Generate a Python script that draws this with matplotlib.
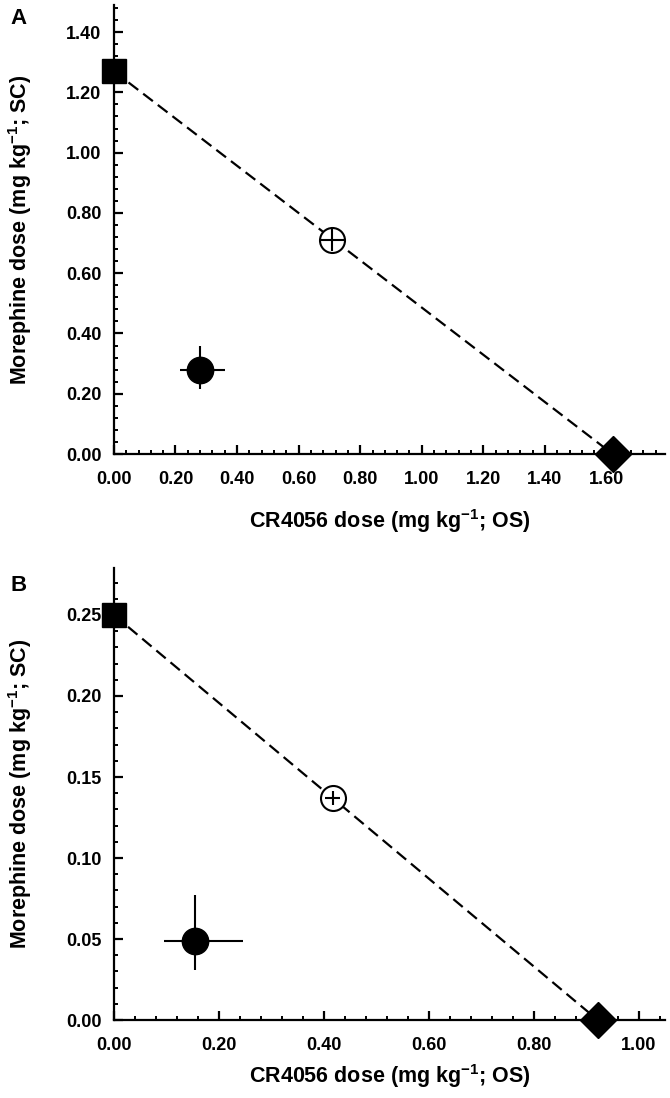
import numpy as np
import matplotlib
matplotlib.use("Agg")
import matplotlib.pyplot as plt
from matplotlib.ticker import MultipleLocator, FormatStrFormatter

plt.rcParams["font.family"] = ["Liberation Sans", "DejaVu Sans"]
plt.rcParams["font.weight"] = "bold"
plt.rcParams["mathtext.fontset"] = "custom"
plt.rcParams["mathtext.rm"] = "Liberation Sans:bold"
plt.rcParams["mathtext.bf"] = "Liberation Sans:bold"
plt.rcParams["mathtext.default"] = "bf"

# Panel A: isobologram (morphine SC vs CR4056 OS)
a_morphine_alone = 1.27
a_cr4056_alone = 1.62
a_additive = (0.71, 0.71)
a_additive_err = (0.038, 0.038)
a_observed = (0.28, 0.28)
a_obs_xerr = ([0.065], [0.08])
a_obs_yerr = ([0.065], [0.077])

# Panel B
b_morphine_alone = 0.25
b_cr4056_alone = 0.922
b_additive = (0.417, 0.137)
b_additive_err = (0.014, 0.0045)
b_observed = (0.154, 0.049)
b_obs_xerr = ([0.059], [0.092])
b_obs_yerr = ([0.018], [0.028])

XLABEL = r"CR4056 dose (mg kg$^{-1}$; OS)"
YLABEL = r"Morephine dose (mg kg$^{-1}$; SC)"


def draw_panel(ax, m_alone, c_alone, add, add_err, obs, obs_xerr, obs_yerr,
               xlim, ylim, xmaj, xmin, ymaj, ymin):
    ax.plot([0, c_alone], [m_alone, 0], color="black", lw=1.6,
            ls=(0, (5.5, 2.8)), zorder=2, clip_on=False)
    ax.plot([0], [m_alone], marker="s", ms=17, color="black",
            ls="none", clip_on=False, zorder=5)
    ax.plot([c_alone], [0], marker="D", ms=18, color="black",
            ls="none", clip_on=False, zorder=5)
    # additive point: open circle with a small cross on top
    ax.plot([add[0]], [add[1]], marker="o", ms=18, mfc="white", mec="black",
            mew=1.5, ls="none", zorder=4)
    ax.errorbar([add[0]], [add[1]], xerr=add_err[0], yerr=add_err[1],
                fmt="none", ecolor="black", elinewidth=1.5, capsize=0, zorder=5)
    ax.errorbar([obs[0]], [obs[1]], xerr=obs_xerr, yerr=obs_yerr,
                fmt="o", ms=19, color="black", ecolor="black",
                elinewidth=1.5, capsize=0, zorder=4)

    ax.set_xlim(*xlim)
    ax.set_ylim(*ylim)
    ax.xaxis.set_major_locator(MultipleLocator(xmaj))
    ax.xaxis.set_minor_locator(MultipleLocator(xmin))
    ax.yaxis.set_major_locator(MultipleLocator(ymaj))
    ax.yaxis.set_minor_locator(MultipleLocator(ymin))
    ax.xaxis.set_major_formatter(FormatStrFormatter("%.2f"))
    ax.yaxis.set_major_formatter(FormatStrFormatter("%.2f"))

    for s in ["top", "right"]:
        ax.spines[s].set_visible(False)
    for s in ["left", "bottom"]:
        ax.spines[s].set_linewidth(1.6)
    ax.tick_params(which="major", direction="in", length=6.5, width=1.6,
                   labelsize=13)
    ax.tick_params(axis="x", which="major", pad=12)
    ax.tick_params(axis="y", which="major", pad=9)
    ax.tick_params(which="minor", direction="in", length=3, width=1.4)
    ax.set_xlabel(XLABEL, fontsize=15.5, fontweight="bold")
    ax.set_ylabel(YLABEL, fontsize=15.5, fontweight="bold")


fig = plt.figure(figsize=(6.7, 10.98), dpi=100)
ax_a = fig.add_axes([0.170, 0.5865, 0.8225, 0.409])
ax_b = fig.add_axes([0.170, 0.0710, 0.8225, 0.4117])

draw_panel(ax_a, a_morphine_alone, a_cr4056_alone, a_additive, a_additive_err,
           a_observed, a_obs_xerr, a_obs_yerr,
           (0, 1.79), (0, 1.49), 0.2, 0.04, 0.2, 0.04)
draw_panel(ax_b, b_morphine_alone, b_cr4056_alone, b_additive, b_additive_err,
           b_observed, b_obs_xerr, b_obs_yerr,
           (0, 1.05), (0, 0.279), 0.2, 0.04, 0.05, 0.01)

ax_a.xaxis.labelpad = 14
ax_b.xaxis.labelpad = 6
ax_a.yaxis.set_label_coords(-0.145, 0.5)
ax_b.yaxis.set_label_coords(-0.145, 0.5)

fig.text(0.027, 0.983, "A", fontsize=16, fontweight="bold", ha="center", va="center")
fig.text(0.027, 0.467, "B", fontsize=16, fontweight="bold", ha="center", va="center")

fig.savefig("out.png", dpi=100)
